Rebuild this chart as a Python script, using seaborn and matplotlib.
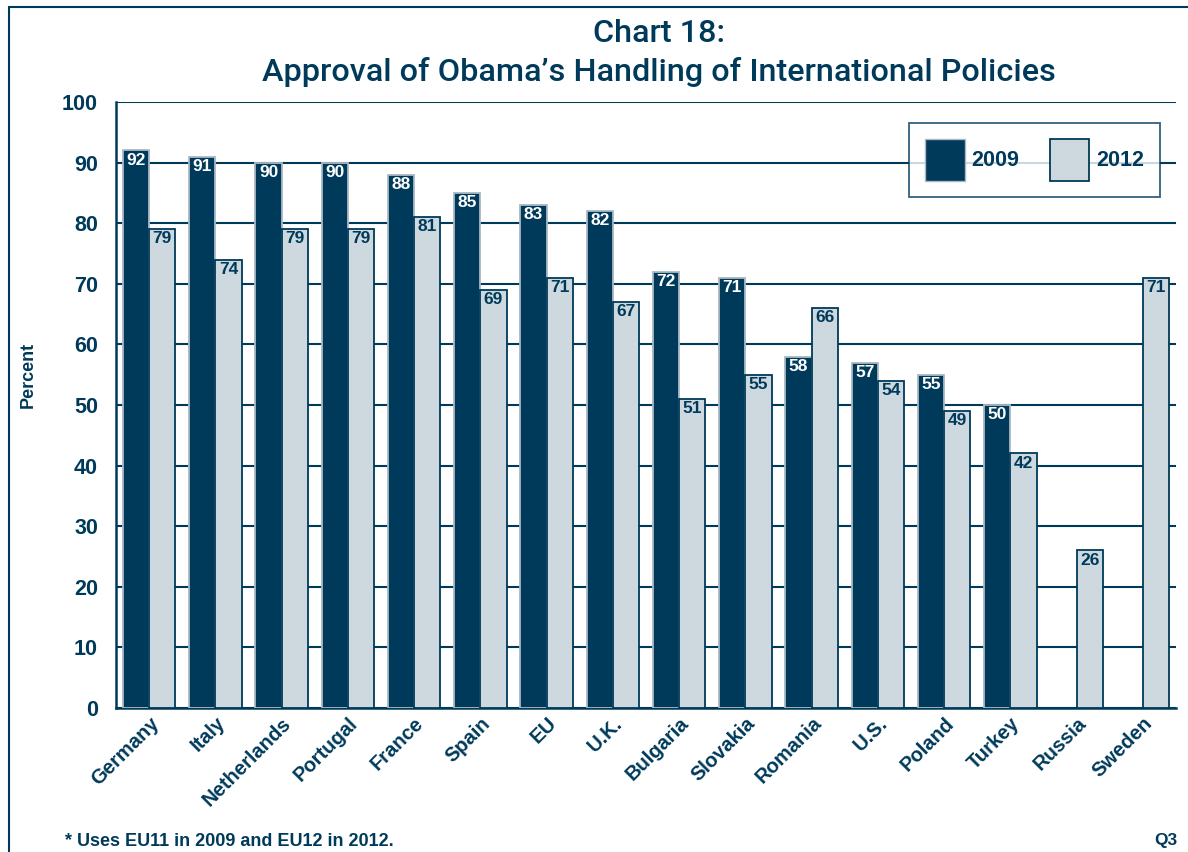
import matplotlib
matplotlib.use("Agg")
import matplotlib.pyplot as plt
import seaborn as sns
import pandas as pd
import numpy as np
from matplotlib.patches import Rectangle, Patch

countries = ["Germany", "Italy", "Netherlands", "Portugal", "France", "Spain", "EU",
             "U.K.", "Bulgaria", "Slovakia", "Romania", "U.S.", "Poland", "Turkey",
             "Russia", "Sweden"]
values_2009 = [92, 91, 90, 90, 88, 85, 83, 82, 72, 71, 58, 57, 55, 50, np.nan, np.nan]
values_2012 = [79, 74, 79, 79, 81, 69, 71, 67, 51, 55, 66, 54, 49, 42, 26, 71]
years = ["2009", "2012"]
y_ticks = [0, 10, 20, 30, 40, 50, 60, 70, 80, 90, 100]

NAVY = "#003a5a"
LIGHT = "#cdd8df"
EDGE09 = "#a9b9c4"

df = pd.DataFrame({
    "Country": countries * 2,
    "Year": [years[0]] * len(countries) + [years[1]] * len(countries),
    "Percent": values_2009 + values_2012,
})

sns.set_theme(style="white")
plt.rcParams["font.family"] = ["Liberation Sans", "DejaVu Sans"]

fig = plt.figure(figsize=(11.88, 8.52), dpi=100)
ax = fig.add_axes([116 / 1188, 1 - 708 / 852, (1176 - 116) / 1188, (708 - 102) / 852])

sns.barplot(data=df, x="Country", y="Percent", hue="Year", order=countries,
            hue_order=years, palette=[NAVY, LIGHT], saturation=1, width=0.79, ax=ax,
            errorbar=None, legend=False, zorder=3)

for cont, ec, tc in zip(ax.containers, [EDGE09, NAVY], ["white", NAVY]):
    for p in cont.patches:
        h = p.get_height()
        if h is None or np.isnan(h) or h == 0:
            continue
        p.set_edgecolor(ec)
        p.set_linewidth(1.3)
        ax.annotate(f"{h:.0f}", (p.get_x() + p.get_width() / 2, h),
                    xytext=(0, -1.5), textcoords="offset points",
                    ha="center", va="top", fontsize=12.5, fontweight="bold", color=tc,
                    zorder=5)

ax.set_xlim(-0.5, 15.5)
ax.set_ylim(0, 100)
ax.set_yticks(y_ticks)
ax.set_yticklabels([str(t) for t in y_ticks], fontsize=15.5, fontweight="bold", color=NAVY)
ax.yaxis.grid(True, color=NAVY, linewidth=1.5, zorder=0)
ax.set_axisbelow(True)
ax.tick_params(axis="y", length=0, pad=13)
ax.tick_params(axis="x", length=0, pad=4)
ax.set_xticks(range(len(countries)))
ax.set_xticklabels(countries, rotation=45, ha="right", rotation_mode="anchor",
                   fontsize=14.5, fontweight="bold", color=NAVY)
ax.set_xlabel("")
ax.set_ylabel("")
for s in ["top", "right"]:
    ax.spines[s].set_visible(False)
for s in ["left", "bottom"]:
    ax.spines[s].set_color(NAVY)
    ax.spines[s].set_linewidth(1.8)

# legend
handles = [Patch(facecolor=NAVY, edgecolor=EDGE09, linewidth=1.0),
           Patch(facecolor=LIGHT, edgecolor=NAVY, linewidth=1.3)]
leg = ax.legend(handles, years, loc="upper right", bbox_to_anchor=(1160 / 1188, 1 - 123 / 852),
                bbox_transform=fig.transFigure, ncol=2, fontsize=15.5, frameon=True,
                fancybox=False, handlelength=1.85, handleheight=2.6, handletextpad=0.3,
                columnspacing=1.4, borderpad=0.75, borderaxespad=0)
leg.get_frame().set_edgecolor(NAVY)
leg.get_frame().set_linewidth(1.3)
for t in leg.get_texts():
    t.set_color(NAVY)
    t.set_fontweight("bold")

title_kw = dict(ha="center", va="center", fontsize=23.3, color=NAVY,
                family=["Roboto", "Liberation Sans", "DejaVu Sans"], fontweight="medium")
fig.text(659 / 1188, 1 - 33 / 852, "Chart 18:", **title_kw)
fig.text(659 / 1188, 1 - 72 / 852, "Approval of Obama\u2019s Handling of International Policies",
         **title_kw)
fig.text(28 / 1188, 1 - 375 / 852, "Percent", rotation=90, ha="center", va="center",
         fontsize=13, fontweight="bold", color=NAVY)
fig.text(65 / 1188, 1 - 841 / 852, "* Uses EU11 in 2009 and EU12 in 2012.", ha="left",
         va="center", fontsize=13, fontweight="bold", color=NAVY)
fig.text(1177 / 1188, 1 - 841 / 852, "Q3", ha="right", va="center", fontsize=12.5,
         fontweight="bold", color=NAVY)

fig.add_artist(Rectangle((9 / 1188, -0.1), 1.2, 1.1 - 7 / 852, transform=fig.transFigure,
                         fill=False, edgecolor=NAVY, linewidth=1.5))

fig.savefig("out.png", dpi=100)
